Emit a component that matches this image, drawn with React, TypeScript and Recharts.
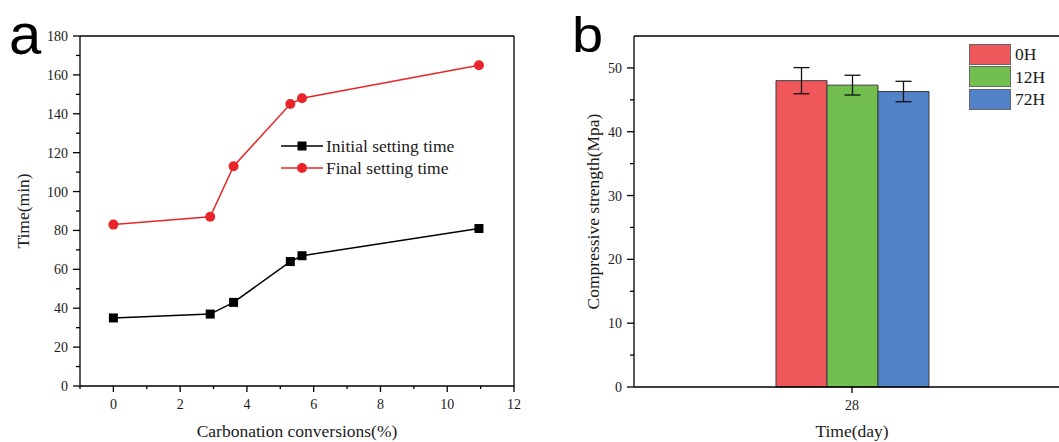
import React from 'react';
import { LineChart, Line, BarChart, Bar, XAxis, YAxis, ErrorBar, Legend, ReferenceLine } from 'recharts';

const SERIF = '"Liberation Serif", "Times New Roman", serif';
const INK = '#1a1a1a';

// panel a: setting time vs carbonation conversion
const conversion = [0, 2.9, 3.6, 5.3, 5.65, 10.95];
const initialSetting = [35, 37, 43, 64, 67, 81];
const finalSetting = [83, 87, 113, 145, 148, 165];
const xTicksA = [-1, 0, 1, 2, 3, 4, 5, 6, 7, 8, 9, 10, 11, 12];
const yTicksA = [0, 10, 20, 30, 40, 50, 60, 70, 80, 90, 100, 110, 120, 130, 140, 150, 160, 170, 180];

// panel b: compressive strength at 28 days
const days = ['28'];
const groups = ['0H', '12H', '72H'];
const strength = [48.0, 47.3, 46.3];
const strengthErr = [2.05, 1.55, 1.6];
const yTicksB = [0, 5, 10, 15, 20, 25, 30, 35, 40, 45, 50];

const groupColors = ['#f0575a', '#72bf50', '#5282c7'];

const lineData = conversion.map((c, i) => ({ x: c, initial: initialSetting[i], final: finalSetting[i] }));

const barData = days.map((d) => {
  const row: any = { day: d };
  groups.forEach((_, i) => {
    row['v' + i] = strength[i];
    row['e' + i] = strengthErr[i];
  });
  return row;
});

const tickText = { fontFamily: SERIF, fontSize: 14, fill: INK };

// ticks are drawn by hand so minor ones can be shorter
const makeYTick = (isMajor: (v: number) => boolean) => (p: any) => {
  const { x, y, payload } = p;
  const major = isMajor(payload.value);
  return (
    <g>
      <line x1={x} x2={x - (major ? 7 : 4)} y1={y} y2={y} stroke="#000" strokeWidth={1.3} />
      {major && (
        <text x={x - 12} y={y + 5} textAnchor="end" style={tickText}>
          {payload.value}
        </text>
      )}
    </g>
  );
};

const makeXTick = (isMajor: (v: any) => boolean) => (p: any) => {
  const { x, y, payload } = p;
  const major = isMajor(payload.value);
  return (
    <g>
      <line x1={x} x2={x} y1={y} y2={y + (major ? 6 : 3)} stroke="#000" strokeWidth={1.3} />
      {major && (
        <text x={x} y={y + 23} textAnchor="middle" style={tickText}>
          {payload.value}
        </text>
      )}
    </g>
  );
};

const SquareDot = (p: any) => (
  <rect key={'sq' + p.index} x={p.cx - 4.5} y={p.cy - 4.5} width={9} height={9} fill="#000" />
);

const lineSeries = [
  { key: 'initial', label: 'Initial setting time', color: '#000', shape: 'square' },
  { key: 'final', label: 'Final setting time', color: '#e8262a', shape: 'circle' },
];

const LineLegend = () => (
  <svg width={200} height={46}>
    {lineSeries.map((s, i) => {
      const cy = 11 + i * 22;
      return (
        <g key={s.key}>
          <line x1={0} x2={42} y1={cy} y2={cy} stroke={s.color} strokeWidth={1.5} />
          {s.shape === 'square' ? (
            <rect x={16.5} y={cy - 4.5} width={9} height={9} fill={s.color} />
          ) : (
            <circle cx={21} cy={cy} r={5} fill={s.color} />
          )}
          <text x={45} y={cy + 6} style={{ fontFamily: SERIF, fontSize: 17.5, fill: INK }}>
            {s.label}
          </text>
        </g>
      );
    })}
  </svg>
);

const BarLegend = () => (
  <div style={{ fontFamily: SERIF, fontSize: 17.5, color: INK }}>
    {groups.map((g, i) => (
      <div key={g} style={{ display: 'flex', alignItems: 'center', height: 20, marginBottom: 2.7 }}>
        <div
          style={{
            width: 40,
            height: 19,
            background: groupColors[i],
            border: '1px solid #666',
          }}
        />
        <span style={{ marginLeft: 4, lineHeight: '20px' }}>{g}</span>
      </div>
    ))}
  </div>
);

const yTitle = (text: string, bx: number) => (p: any) => {
  const vb = p.viewBox;
  const cy = vb.y + vb.height / 2;
  return (
    <text
      x={bx}
      y={cy}
      transform={`rotate(-90, ${bx}, ${cy})`}
      textAnchor="middle"
      style={{ fontFamily: SERIF, fontSize: 17.5, fill: INK }}
    >
      {text}
    </text>
  );
};

const xTitle = (text: string) => (p: any) => {
  const vb = p.viewBox;
  return (
    <text
      x={vb.x + vb.width / 2}
      y={437}
      textAnchor="middle"
      style={{ fontFamily: SERIF, fontSize: 17.5, fill: INK }}
    >
      {text}
    </text>
  );
};

export default function App() {
  return (
    <div
      style={{
        position: 'absolute',
        left: 0,
        top: 0,
        width: 1059,
        height: 442,
        overflow: 'hidden',
        background: '#fff',
      }}
    >
      <div style={{ position: 'absolute', left: 0, top: 0 }}>
        <LineChart width={530} height={442} data={lineData} margin={{ top: 36, right: 16, left: 0, bottom: 0 }}>
          <XAxis
            dataKey="x"
            type="number"
            domain={[-1, 12]}
            ticks={xTicksA}
            interval={0}
            tickSize={0}
            tickMargin={0}
            tickLine={false}
            height={56}
            stroke="#000"
            strokeWidth={1.3}
            tick={makeXTick((v) => v >= 0 && v % 2 === 0)}
            label={{ content: xTitle('Carbonation conversions(%)') }}
          />
          <YAxis
            type="number"
            domain={[0, 180]}
            ticks={yTicksA}
            interval={0}
            width={80}
            tickSize={0}
            tickMargin={0}
            tickLine={false}
            stroke="#000"
            strokeWidth={1.3}
            tick={makeYTick((v) => v % 20 === 0)}
            label={{ content: yTitle('Time(min)', 28.5) }}
          />
          {/* frame: top and right edges */}
          <ReferenceLine y={180} stroke="#000" strokeWidth={1.3} />
          <ReferenceLine x={12} stroke="#000" strokeWidth={1.3} />
          <Legend
            layout="vertical"
            align="center"
            verticalAlign="middle"
            content={() => <LineLegend />}
            wrapperStyle={{ left: 281, top: 135, width: 200 }}
          />
          <Line dataKey="initial" stroke="#000" strokeWidth={1.5} dot={SquareDot} isAnimationActive={false} />
          <Line
            dataKey="final"
            stroke="#e8262a"
            strokeWidth={1.5}
            dot={{ r: 5, fill: '#e8262a', stroke: '#e8262a', strokeWidth: 0 }}
            isAnimationActive={false}
          />
        </LineChart>
      </div>

      <div style={{ position: 'absolute', left: 530, top: 0 }}>
        <BarChart
          width={540}
          height={442}
          data={barData}
          barGap={0}
          barSize={51}
          margin={{ top: 36, right: 0, left: 0, bottom: 0 }}
        >
          <XAxis
            dataKey="day"
            height={55}
            tickSize={0}
            tickMargin={0}
            tickLine={false}
            interval={0}
            stroke="#000"
            strokeWidth={1.3}
            tick={makeXTick(() => true)}
            label={{ content: xTitle('Time(day)') }}
          />
          <YAxis
            type="number"
            domain={[0, 55]}
            ticks={yTicksB}
            interval={0}
            width={104}
            tickSize={0}
            tickMargin={0}
            tickLine={false}
            stroke="#000"
            strokeWidth={1.3}
            tick={makeYTick((v) => v % 10 === 0)}
            label={{ content: yTitle('Compressive strength(Mpa)', 69) }}
          />
          <ReferenceLine y={55} stroke="#000" strokeWidth={1.3} />
          <Legend
            layout="vertical"
            align="center"
            verticalAlign="middle"
            content={() => <BarLegend />}
            wrapperStyle={{ left: 439, top: 44, width: 90 }}
          />
          {groups.map((g, i) => (
            <Bar
              key={g}
              dataKey={'v' + i}
              name={g}
              fill={groupColors[i]}
              stroke="#3a3a3a"
              strokeWidth={1}
              isAnimationActive={false}
            >
              <ErrorBar dataKey={'e' + i} width={8} stroke="#111" strokeWidth={1.3} direction="y" />
            </Bar>
          ))}
        </BarChart>
      </div>

      <svg
        width={1059}
        height={442}
        style={{ position: 'absolute', left: 0, top: 0, pointerEvents: 'none' }}
      >
        <text x={9} y={54} style={{ fontFamily: '"Liberation Sans", Arial, sans-serif', fontSize: 58, fill: '#000' }}>
          a
        </text>
        <text
          x={572}
          y={52.5}
          transform="translate(572 0) scale(1.12 1) translate(-572 0)"
          style={{ fontFamily: '"Liberation Sans", Arial, sans-serif', fontSize: 50, fill: '#000' }}
        >
          b
        </text>
      </svg>
    </div>
  );
}
